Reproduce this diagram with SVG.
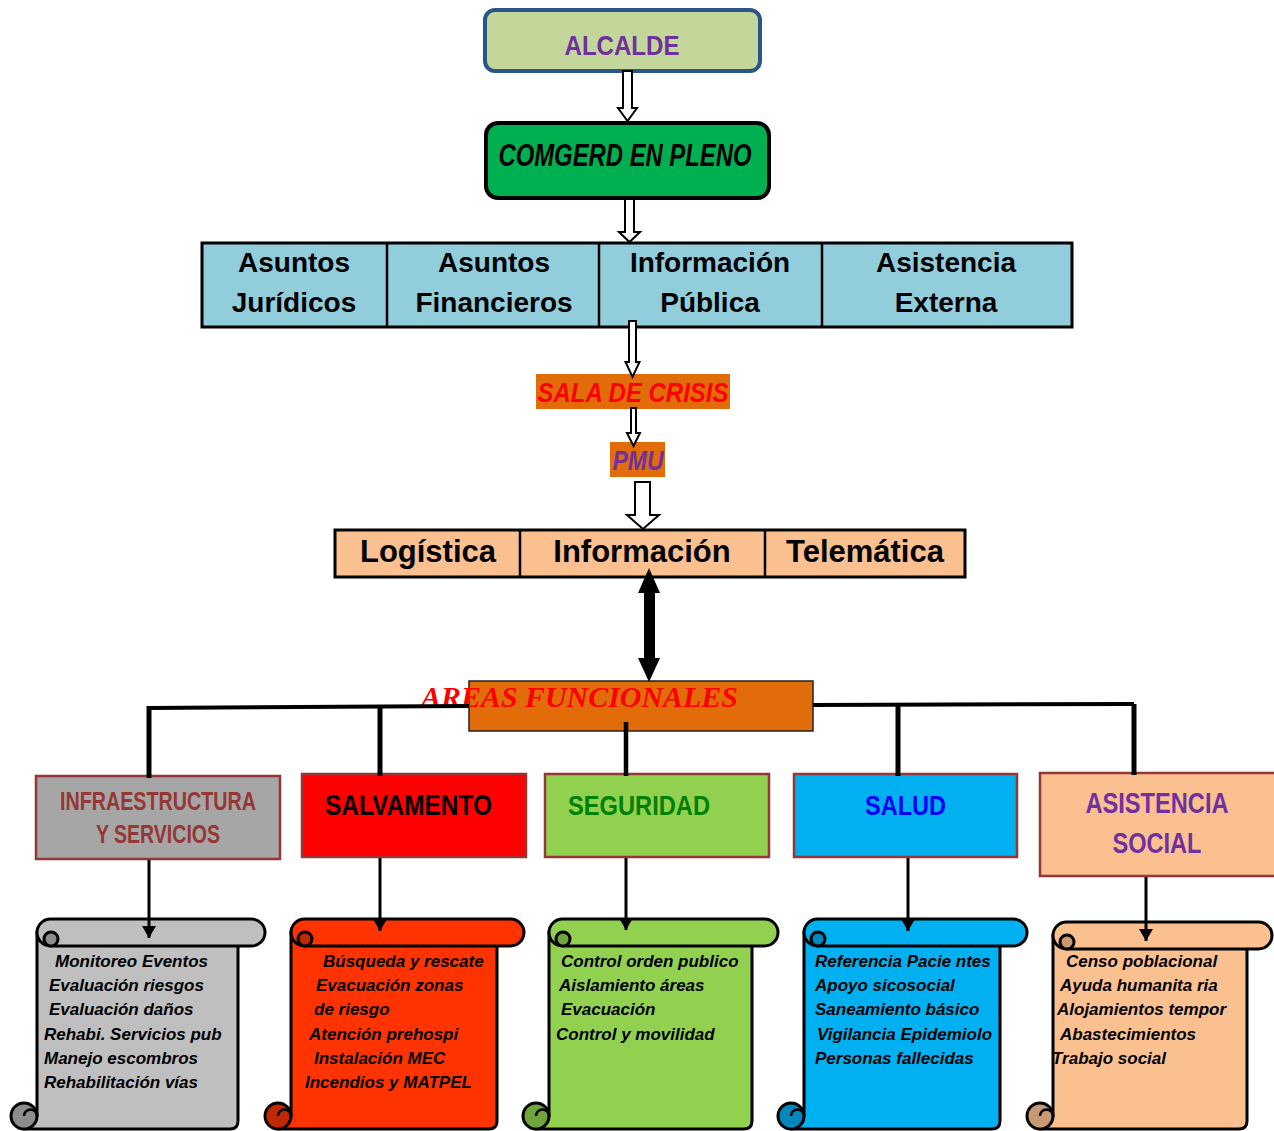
<svg xmlns="http://www.w3.org/2000/svg" width="1274" height="1131" viewBox="0 0 1274 1131">
<style>
.nar{font-family:"Liberation Sans Narrow","Arial Narrow","Liberation Sans",Arial,sans-serif;font-weight:bold}
.hd{font-family:"Liberation Sans",Arial,sans-serif;font-weight:bold;font-size:28px;fill:#000;text-anchor:middle}
.lg{font-family:"Liberation Sans",Arial,sans-serif;font-weight:bold;font-size:31px;fill:#000;text-anchor:middle}
.sc{font-family:"Liberation Sans",Arial,sans-serif;font-weight:bold;font-style:italic;font-size:17px;fill:#000}
.fbox{stroke:#953735;stroke-width:2.5}
.edge{stroke:#000;fill:#fff;stroke-width:2}
.ln{stroke:#000;fill:none}
.ol{stroke:#000;stroke-width:3;stroke-linejoin:round}
</style>
<defs>
<marker id="ah" markerUnits="userSpaceOnUse" markerWidth="12" markerHeight="14" viewBox="0 0 12 14" refX="12" refY="7" orient="auto">
<path d="M0,0 L12,7 L0,14 Z" fill="#000"/>
</marker>
</defs>
<rect width="1274" height="1131" fill="#fff"/>

<g id="alcalde">
<rect x="485" y="10" width="275" height="61" rx="10" fill="#c4d79b" stroke="#2b5487" stroke-width="4"/>
<text class="nar" x="622" y="55" font-size="28" fill="#7030a0" text-anchor="middle" textLength="115" lengthAdjust="spacingAndGlyphs">ALCALDE</text>
</g>
<g id="comgerd">
<rect x="486" y="123" width="283" height="75" rx="12" fill="#00b050" stroke="#000" stroke-width="4"/>
<text class="nar" x="625" y="166" font-size="31" font-style="italic" fill="#000" text-anchor="middle" textLength="253" lengthAdjust="spacingAndGlyphs">COMGERD EN PLENO</text>
</g>
<g id="asesores">
<rect x="202" y="243" width="870" height="84" fill="#92cddc" stroke="#000" stroke-width="3"/>
<line class="ln" x1="387" y1="243" x2="387" y2="327" stroke-width="2.5"/>
<line class="ln" x1="599" y1="243" x2="599" y2="327" stroke-width="2.5"/>
<line class="ln" x1="822" y1="243" x2="822" y2="327" stroke-width="2.5"/>
<text class="hd" x="294" y="272">Asuntos</text>
<text class="hd" x="294" y="312">Jurídicos</text>
<text class="hd" x="494" y="272">Asuntos</text>
<text class="hd" x="494" y="312">Financieros</text>
<text class="hd" x="710" y="272">Información</text>
<text class="hd" x="710" y="312">Pública</text>
<text class="hd" x="946" y="272">Asistencia</text>
<text class="hd" x="946" y="312">Externa</text>
</g>
<g id="sala">
<rect x="536" y="374" width="194" height="35" fill="#e26b0a"/>
<text class="nar" x="633" y="402" font-size="28" font-style="italic" fill="#ff0000" text-anchor="middle" textLength="191" lengthAdjust="spacingAndGlyphs">SALA DE CRISIS</text>
</g>
<g id="pmu">
<rect x="610" y="442" width="55" height="35" fill="#e26b0a"/>
<text class="nar" x="638" y="470" font-size="28" font-style="italic" fill="#7030a0" text-anchor="middle" textLength="51" lengthAdjust="spacingAndGlyphs">PMU</text>
</g>
<g id="operaciones">
<rect x="335" y="530" width="630" height="47" fill="#fac090" stroke="#000" stroke-width="3"/>
<line class="ln" x1="520" y1="530" x2="520" y2="577" stroke-width="2.5"/>
<line class="ln" x1="765" y1="530" x2="765" y2="577" stroke-width="2.5"/>
<text class="lg" x="428" y="562">Logística</text>
<text class="lg" x="642" y="562">Información</text>
<text class="lg" x="865" y="562">Telemática</text>
</g>
<g id="areas">
<rect x="469" y="681" width="344" height="50" fill="#e26b0a" stroke="#222" stroke-width="1.5"/>
<text x="421" y="707" font-family="'Liberation Serif','Times New Roman',serif" font-weight="bold" font-style="italic" font-size="29" fill="#ff0000" textLength="317" lengthAdjust="spacingAndGlyphs">AREAS FUNCIONALES</text>
</g>
<g id="infraestructura">
<rect class="fbox" x="36" y="776" width="244" height="83" fill="#a6a6a6"/>
<text class="nar" x="158" y="810" font-size="25" fill="#953735" text-anchor="middle" textLength="196" lengthAdjust="spacingAndGlyphs">INFRAESTRUCTURA</text>
<text class="nar" x="158" y="843" font-size="25" fill="#953735" text-anchor="middle" textLength="124" lengthAdjust="spacingAndGlyphs">Y SERVICIOS</text>
</g>
<g id="salvamento">
<rect class="fbox" x="302" y="774" width="224" height="83" fill="#ff0000"/>
<text class="nar" x="325" y="815" font-size="30" fill="#000" textLength="167" lengthAdjust="spacingAndGlyphs">SALVAMENTO</text>
</g>
<g id="seguridad">
<rect class="fbox" x="545" y="774" width="224" height="83" fill="#92d050"/>
<text class="nar" x="568" y="815" font-size="28" fill="#008000" textLength="142" lengthAdjust="spacingAndGlyphs">SEGURIDAD</text>
</g>
<g id="salud">
<rect class="fbox" x="794" y="774" width="223" height="83" fill="#00b0f0"/>
<text class="nar" x="865" y="815" font-size="28" fill="#0000ff" textLength="81" lengthAdjust="spacingAndGlyphs">SALUD</text>
</g>
<g id="asistencia">
<rect class="fbox" x="1040" y="773" width="240" height="103" fill="#fac090"/>
<text class="nar" x="1157" y="813" font-size="29" fill="#7030a0" text-anchor="middle" textLength="143" lengthAdjust="spacingAndGlyphs">ASISTENCIA</text>
<text class="nar" x="1157" y="853" font-size="29" fill="#7030a0" text-anchor="middle" textLength="89" lengthAdjust="spacingAndGlyphs">SOCIAL</text>
</g>

<g id="scroll-infra">
<path class="ol" d="M37,932 L37,1116 L24,1129 L230,1129 Q238,1129 238,1121 L238,940 Z" fill="#bfbfbf"/>
<path class="ol" d="M50.5,919 L251.5,919 A13.5,13.5 0 0 1 251.5,946 L50.5,946 A13.5,13.5 0 0 1 50.5,919 Z" fill="#bfbfbf"/>
<circle class="ol" cx="51" cy="939" r="7" fill="#8c8c8c"/>
<circle class="ol" cx="24" cy="1116" r="13" fill="#8c8c8c"/>
<path class="ln" d="M24,1116 a6.5,6.5 0 0 1 13,0" stroke-width="2.5"/>
<text class="sc" x="55" y="967">Monitoreo Eventos</text>
<text class="sc" x="49" y="991">Evaluación riesgos</text>
<text class="sc" x="49" y="1015">Evaluación daños</text>
<text class="sc" x="44" y="1040">Rehabi. Servicios pub</text>
<text class="sc" x="44" y="1064">Manejo escombros</text>
<text class="sc" x="44" y="1088">Rehabilitación vías</text>
</g>
<g id="scroll-salvamento">
<path class="ol" d="M291,932 L291,1116 L278,1129 L489,1129 Q497,1129 497,1121 L497,940 Z" fill="#ff3300"/>
<path class="ol" d="M304.5,919 L510.5,919 A13.5,13.5 0 0 1 510.5,946 L304.5,946 A13.5,13.5 0 0 1 304.5,919 Z" fill="#ff3300"/>
<circle class="ol" cx="305" cy="939" r="7" fill="#c02800"/>
<circle class="ol" cx="278" cy="1116" r="13" fill="#c02800"/>
<path class="ln" d="M278,1116 a6.5,6.5 0 0 1 13,0" stroke-width="2.5"/>
<text class="sc" x="323" y="967">Búsqueda y rescate</text>
<text class="sc" x="316" y="991">Evacuación zonas</text>
<text class="sc" x="314" y="1015">de riesgo</text>
<text class="sc" x="309" y="1040">Atención prehospi</text>
<text class="sc" x="314" y="1064">Instalación MEC</text>
<text class="sc" x="305" y="1088">Incendios y MATPEL</text>
</g>
<g id="scroll-seguridad">
<path class="ol" d="M549,932 L549,1116 L536,1129 L744,1129 Q752,1129 752,1121 L752,940 Z" fill="#92d050"/>
<path class="ol" d="M562.5,919 L764.5,919 A13.5,13.5 0 0 1 764.5,946 L562.5,946 A13.5,13.5 0 0 1 562.5,919 Z" fill="#92d050"/>
<circle class="ol" cx="563" cy="939" r="7" fill="#70a43c"/>
<circle class="ol" cx="536" cy="1116" r="13" fill="#70a43c"/>
<path class="ln" d="M536,1116 a6.5,6.5 0 0 1 13,0" stroke-width="2.5"/>
<text class="sc" x="561" y="967">Control orden publico</text>
<text class="sc" x="559" y="991">Aislamiento áreas</text>
<text class="sc" x="561" y="1015">Evacuación</text>
<text class="sc" x="556" y="1040">Control y movilidad</text>
</g>
<g id="scroll-salud">
<path class="ol" d="M804,932 L804,1116 L791,1129 L992,1129 Q1000,1129 1000,1121 L1000,940 Z" fill="#00b0f0"/>
<path class="ol" d="M817.5,919 L1013.5,919 A13.5,13.5 0 0 1 1013.5,946 L817.5,946 A13.5,13.5 0 0 1 817.5,919 Z" fill="#00b0f0"/>
<circle class="ol" cx="818" cy="939" r="7" fill="#0088bb"/>
<circle class="ol" cx="791" cy="1116" r="13" fill="#0088bb"/>
<path class="ln" d="M791,1116 a6.5,6.5 0 0 1 13,0" stroke-width="2.5"/>
<text class="sc" x="815" y="967">Referencia Pacie ntes</text>
<text class="sc" x="815" y="991">Apoyo sicosocial</text>
<text class="sc" x="815" y="1015">Saneamiento básico</text>
<text class="sc" x="817" y="1040">Vigilancia Epidemiolo</text>
<text class="sc" x="815" y="1064">Personas fallecidas</text>
</g>
<g id="scroll-asistencia">
<path class="ol" d="M1053,935 L1053,1116 L1040,1129 L1239,1129 Q1247,1129 1247,1121 L1247,943 Z" fill="#fac090"/>
<path class="ol" d="M1066.5,922 L1258.5,922 A13.5,13.5 0 0 1 1258.5,949 L1066.5,949 A13.5,13.5 0 0 1 1066.5,922 Z" fill="#fac090"/>
<circle class="ol" cx="1067" cy="942" r="7" fill="#c89a73"/>
<circle class="ol" cx="1040" cy="1116" r="13" fill="#c89a73"/>
<path class="ln" d="M1040,1116 a6.5,6.5 0 0 1 13,0" stroke-width="2.5"/>
<text class="sc" x="1066" y="967">Censo poblacional</text>
<text class="sc" x="1060" y="991">Ayuda humanita ria</text>
<text class="sc" x="1057" y="1015">Alojamientos tempor</text>
<text class="sc" x="1060" y="1040">Abastecimientos</text>
<text class="sc" x="1052" y="1064">Trabajo social</text>
</g>

<g id="connectors">
<polygon class="edge" points="623,71 632,71 632,108 637,108 627.5,121 618,108 623,108"/>
<polygon class="edge" points="625,199 634,199 634,232 640,232 629.5,242 619,232 625,232"/>
<polygon class="edge" points="629,321 636,321 636,362 639.5,362 632.5,377 625.5,362 629,362"/>
<polygon class="edge" points="631,408 636,408 636,433 640,433 633.5,446 627,433 631,433"/>
<polygon class="edge" points="635,482 650,482 650,515 659,515 643,529 627,515 635,515"/>
<polygon points="649,568 660,593 655,593 655,658 660,658 649,682 638,658 644,658 644,593 638,593" fill="#000"/>
<path class="ln" d="M148,708 L469,706" stroke-width="4"/>
<path class="ln" d="M813,705 L1134,704" stroke-width="4"/>
<path class="ln" d="M149,706 L149,778" stroke-width="5"/>
<path class="ln" d="M380,707 L380,776" stroke-width="5"/>
<path class="ln" d="M626,722 L626,776" stroke-width="4.5"/>
<path class="ln" d="M898,705 L898,776" stroke-width="5"/>
<path class="ln" d="M1134,704 L1134,775" stroke-width="5"/>
<path class="ln" d="M149,860 L149,938" stroke-width="3" marker-end="url(#ah)"/>
<path class="ln" d="M380,858 L380,931" stroke-width="3" marker-end="url(#ah)"/>
<path class="ln" d="M626,858 L626,930" stroke-width="3" marker-end="url(#ah)"/>
<path class="ln" d="M908,858 L908,931" stroke-width="3" marker-end="url(#ah)"/>
<path class="ln" d="M1146,877 L1146,941" stroke-width="3" marker-end="url(#ah)"/>
</g>
</svg>
